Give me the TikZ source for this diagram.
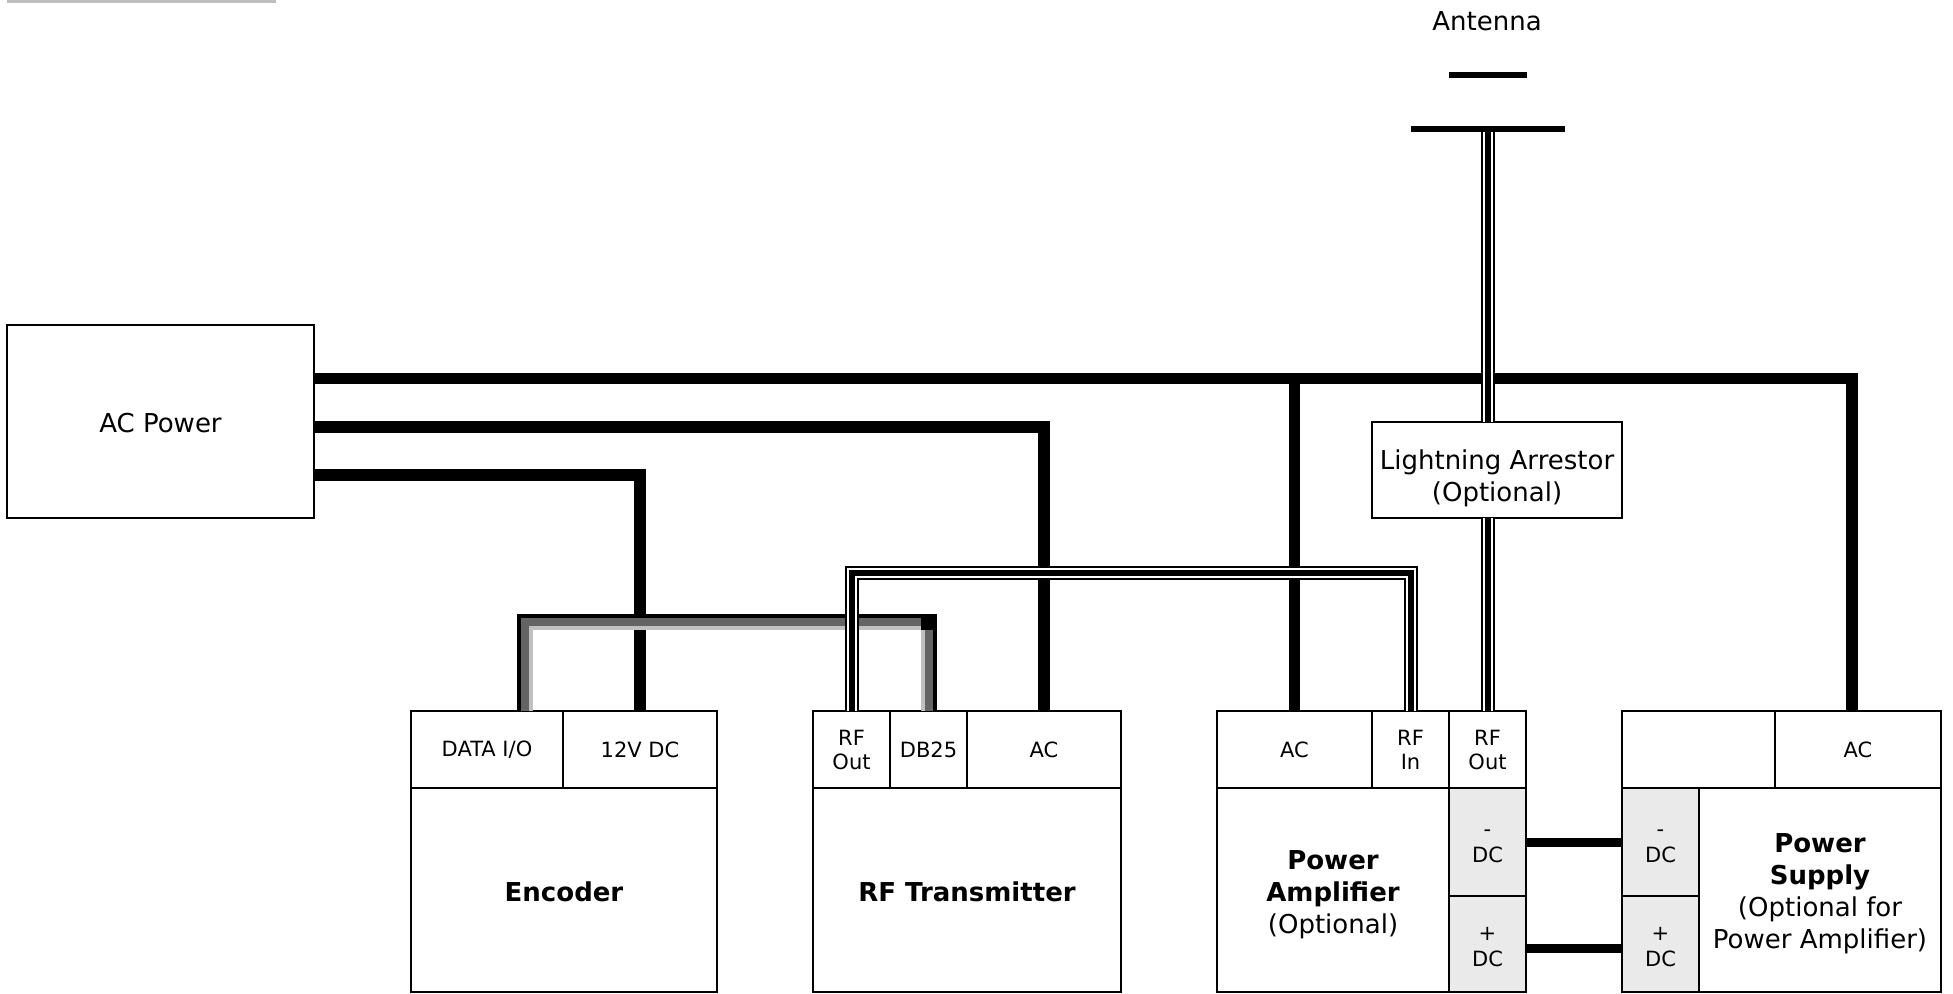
\documentclass[tikz,border=0pt]{standalone}
\usepackage{fontspec}
\setmainfont{DejaVu Sans}
\usetikzlibrary{calc}
\definecolor{dcfill}{RGB}{234,234,234}
\definecolor{cabdark}{RGB}{100,100,100}
\definecolor{cablight}{RGB}{192,192,192}
\definecolor{topbar}{RGB}{191,191,191}
\newcommand\fbig{\fontsize{26}{32}\selectfont}
\newcommand\fsmall{\fontsize{21}{24}\selectfont}
\newcommand\fdc{\fontsize{21}{26}\selectfont}
\begin{document}
\begin{tikzpicture}[x=1pt,y=-1pt,
  every node/.style={inner sep=0pt, outer sep=0pt, text=black},
  blk/.style={draw=black, line width=2pt, fill=white, align=center},
  cell/.style={blk, minimum height=77pt, font=\fsmall},
  dcc/.style={blk, fill=dcfill, minimum width=77pt},
  txt/.style={align=center},
  power/.style={draw=black, line width=11.5pt},
  dcline/.style={draw=black, line width=9pt},
  cabblk/.style={draw=black, line width=16pt},
  cabdk/.style={draw=cabdark, line width=8pt},
  cablt/.style={draw=cablight, line width=4pt},
  coax/.style={draw=black, line width=2pt, double=white, double distance=10pt},
  coaxcore/.style={draw=black, line width=6pt}]
\useasboundingbox (0,0) rectangle (1953,993);
\fill[topbar] (7,0) rectangle (276,3);

% AC power
\node[blk, minimum width=307pt, minimum height=193pt] (acp) at (160.5,421.5) {};
\node[txt, font=\fbig] (acpt) at ([yshift=-2pt]acp.center) {AC Power};

% Encoder
\node[cell, minimum width=152pt] (encdata) at (487,749.5) {DATA I/O};
\node[cell, minimum width=154pt] (encdc) at (640,749.5) {12V DC};
\node[blk, minimum width=306pt, minimum height=204pt] (enc) at (564,890) {};
\node[txt, font=\fbig\bfseries] (enct) at ([yshift=-2pt]enc.center) {Encoder};

% RF Transmitter
\node[cell, minimum width=77pt] (txrf) at (851.5,749.5) {RF\\Out};
\node[cell, minimum width=77pt] (txdb) at (928.5,749.5) {DB25};
\node[cell, minimum width=154pt] (txac) at (1044,749.5) {AC};
\node[blk, minimum width=308pt, minimum height=204pt] (tx) at (967,890) {};
\node[txt, font=\fbig\bfseries] (txt) at ([yshift=-2pt]tx.center) {RF Transmitter};

% Power Amplifier
\node[cell, minimum width=155pt] (paac) at (1294.5,749.5) {AC};
\node[cell, minimum width=77pt] (parfin) at (1410.5,749.5) {RF\\In};
\node[cell, minimum width=77pt] (parfout) at (1487.5,749.5) {RF\\Out};
\node[blk, minimum width=232pt, minimum height=204pt] (pa) at (1333,890) {};
\node[txt, font=\fbig] (pat) at ([yshift=-5pt]pa.center) {\textbf{Power}\\\textbf{Amplifier}\\(Optional)};
\node[dcc, minimum height=108pt] (padcm) at (1487.5,842) {};
\node[txt, font=\fdc] (padcmt) at ([yshift=-4pt]padcm.center) {-\\DC};
\node[dcc, minimum height=96pt] (padcp) at (1487.5,944) {};
\node[txt, font=\fdc] (padcpt) at ([yshift=-3pt]padcp.center) {+\\DC};

% Power Supply
\node[cell, minimum width=153pt] (psx) at (1698.5,749.5) {};
\node[cell, minimum width=166pt] (psac) at (1858,749.5) {AC};
\node[dcc, minimum height=108pt] (psdcm) at (1660.5,842) {};
\node[txt, font=\fdc] (psdcmt) at ([yshift=-4pt]psdcm.center) {-\\DC};
\node[dcc, minimum height=96pt] (psdcp) at (1660.5,944) {};
\node[txt, font=\fdc] (psdcpt) at ([yshift=-3pt]psdcp.center) {+\\DC};
\node[blk, minimum width=242pt, minimum height=204pt] (ps) at (1820,890) {};
\node[txt, font=\fbig] (pst) at ([yshift=-4pt]ps.center) {\textbf{Power}\\\textbf{Supply}\\(Optional for\\Power Amplifier)};

% Lightning arrestor
\node[blk, minimum width=250pt, minimum height=96pt] (arr) at (1497,470) {};
\node[txt, font=\fbig] (arrt) at ([yshift=-8pt]arr.center) {Lightning Arrestor\\(Optional)};

% Antenna
\node[font=\fbig, anchor=base] (antlbl) at (1487,30) {Antenna};
\node[fill=black, minimum width=78pt, minimum height=6pt] (anttop) at (1487.5,75) {};
\node[fill=black, minimum width=154pt, minimum height=6pt] (antbot) at (1487.5,129) {};

% helper rows
\coordinate (rowA) at (0,378.5);
\coordinate (rowB) at (0,427);
\coordinate (rowC) at (0,475);
\coordinate (psx1) at (1852,0);
\coordinate (crow) at (0,573);
\coordinate (dtop) at (0,622);
\coordinate (dtopin) at (0,628);
\coordinate (dcorner) at (921,0);
\coordinate (dcend) at (0,630);
\coordinate (dcrowp) at (0,948);

% AC power lines
\draw[power] (acp.east |- rowA) -- (psx1 |- rowA) -- (psx1 |- psac.north);
\draw[power] (paac.north |- rowA) -- (paac.north);
\draw[power] (acp.east |- rowB) -- (txac.north |- rowB) -- (txac.north);
\draw[power] (acp.east |- rowC) -- (encdc.north |- rowC) -- (encdc.north);

% data cable
\draw[cabblk] ([xshift=38pt]encdata.north) |- (dtop -| txdb.north) -- (txdb.north);
\draw[cabdk] ([xshift=38pt]encdata.north) |- (dtop -| dcorner);
\draw[cablt] ([xshift=44pt]encdata.north) |- (dtopin -| dcorner);
\draw[cabdk] (txdb.north |- dcend) -- (txdb.north);
\draw[cablt] ([xshift=-6pt]txdb.north |- dcend) -- ([xshift=-6pt]txdb.north);

% coax lines
\draw[coax] (txrf.north) |- (crow -| parfin.north) -- (parfin.north);
\draw[coaxcore] (txrf.north) |- (crow -| parfin.north) -- (parfin.north);
\draw[coax] (antbot.south) -- (arr.north -| antbot.south);
\draw[coaxcore] (antbot.south) -- (arr.north -| antbot.south);
\draw[coax] (arr.south -| parfout.north) -- (parfout.north);
\draw[coaxcore] (arr.south -| parfout.north) -- (parfout.north);

% DC lines
\draw[dcline] (padcm.east) -- (psdcm.west);
\draw[dcline] (padcp.east |- dcrowp) -- (psdcp.west |- dcrowp);
\end{tikzpicture}
\end{document}
